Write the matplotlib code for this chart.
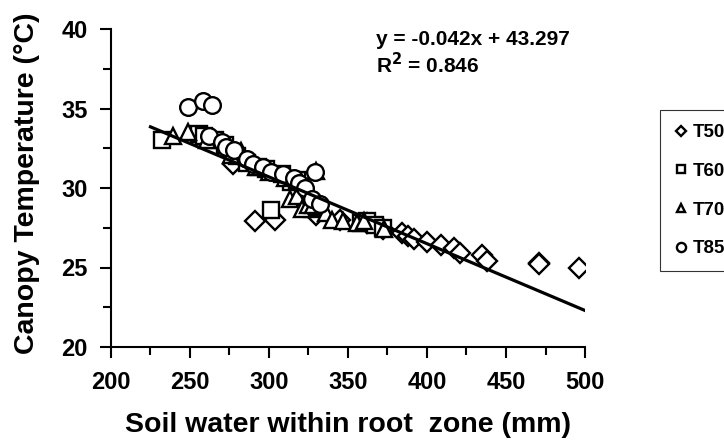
import numpy as np
import matplotlib
matplotlib.use("Agg")
import matplotlib.pyplot as plt
from matplotlib.ticker import MultipleLocator

# soil water (mm) and canopy temperature (C) per treatment
t50_x = [277, 291, 304, 330, 345, 362, 372, 384, 388, 392, 400, 409, 417, 421, 435, 438, 471, 471, 496]
t50_y = [31.5, 27.9, 28.0, 28.3, 28.0, 27.8, 27.4, 27.2, 27.0, 26.8, 26.6, 26.4, 26.2, 25.9, 25.8, 25.4, 25.3, 25.2, 25.0]

t60_x = [232, 256, 259, 266, 272, 280, 286, 293, 298, 301, 308, 314, 318, 322, 327, 330, 358, 362, 367, 372]
t60_y = [33.0, 33.4, 33.3, 33.0, 32.7, 32.0, 31.6, 31.3, 31.2, 28.6, 30.9, 30.4, 30.5, 29.4, 28.7, 28.8, 27.8, 27.9, 27.7, 27.5]

t70_x = [239, 249, 261, 276, 282, 292, 300, 310, 313, 318, 321, 325, 328, 330, 336, 340, 347, 356, 360, 373]
t70_y = [33.3, 33.5, 33.0, 32.1, 32.3, 31.3, 31.0, 30.6, 29.3, 29.5, 28.7, 28.9, 28.9, 31.1, 28.4, 28.0, 27.9, 27.8, 27.9, 27.4]

t85_x = [249, 258, 264, 262, 270, 273, 278, 286, 290, 296, 301, 309, 316, 319, 323, 327, 329, 332]
t85_y = [35.1, 35.5, 35.2, 33.3, 32.9, 32.6, 32.4, 31.8, 31.5, 31.3, 31.0, 30.9, 30.6, 30.3, 30.0, 29.3, 31.0, 29.0]

series = [("T50", "D", t50_x, t50_y),
          ("T60", "s", t60_x, t60_y),
          ("T70", "^", t70_x, t70_y),
          ("T85", "o", t85_x, t85_y)]

# regression line as printed on the chart
slope, intercept = -0.042, 43.297
fit_range = [225, 500]

plt.rcParams["font.family"] = ["Liberation Sans", "DejaVu Sans"]
plt.rcParams["font.weight"] = "bold"

fig = plt.figure(figsize=(7.24, 4.45), dpi=100)
ax = fig.add_axes([111 / 724, 1 - 347 / 445, (585 - 111) / 724, (347 - 29) / 445])

sizes = {"D": 10, "s": 11, "^": 11.5, "o": 12}
for name, mk, xs, ys in series:
    ax.plot(xs, ys, linestyle="none", marker=mk, markersize=sizes[mk],
            markerfacecolor="white", markeredgecolor="black",
            markeredgewidth=1.7, label=name)

fx = np.array(fit_range, dtype=float)
ax.plot(fx, slope * fx + intercept, color="black", linewidth=2.3, zorder=5)

ax.set_xlim(200, 500)
ax.set_ylim(20, 40)
ax.xaxis.set_major_locator(MultipleLocator(50))
ax.xaxis.set_minor_locator(MultipleLocator(25))
ax.yaxis.set_major_locator(MultipleLocator(5))
ax.yaxis.set_minor_locator(MultipleLocator(2.5))
ax.tick_params(which="major", direction="out", length=8, width=1.5, labelsize=17, pad=9)
ax.tick_params(which="minor", direction="out", length=6, width=1.5)
for side in ["top", "right"]:
    ax.spines[side].set_visible(False)
for side in ["left", "bottom"]:
    ax.spines[side].set_linewidth(1.5)

fig.text(27 / 724, 1 - 183 / 445, "Canopy Temperature (°C)", rotation=90,
         ha="center", va="center", fontsize=20.5, fontweight="bold")
fig.text(348 / 724, 1 - 432 / 445, "Soil water within root  zone (mm)",
         ha="center", va="baseline", fontsize=20.5, fontweight="bold")

fig.text(376 / 724, 1 - 45 / 445, "y = -0.042x + 43.297", ha="left", va="baseline",
         fontsize=15, fontweight="bold")
fig.text(376 / 724, 1 - 73 / 445, "R$^{\\mathbf{2}}$ = 0.846", ha="left", va="baseline",
         fontsize=15, fontweight="bold")

leg = ax.legend(loc="upper left", bbox_to_anchor=(660 / 724, 1 - 110 / 445),
                bbox_transform=fig.transFigure, frameon=True, fancybox=False,
                markerscale=0.55, handlelength=0.7, handletextpad=0.3,
                labelspacing=1.15, borderpad=0.75, borderaxespad=0,
                prop={"size": 13.5, "weight": "bold"})
leg.get_frame().set_edgecolor("black")
leg.get_frame().set_linewidth(0.8)

fig.savefig("out.png", dpi=100)
